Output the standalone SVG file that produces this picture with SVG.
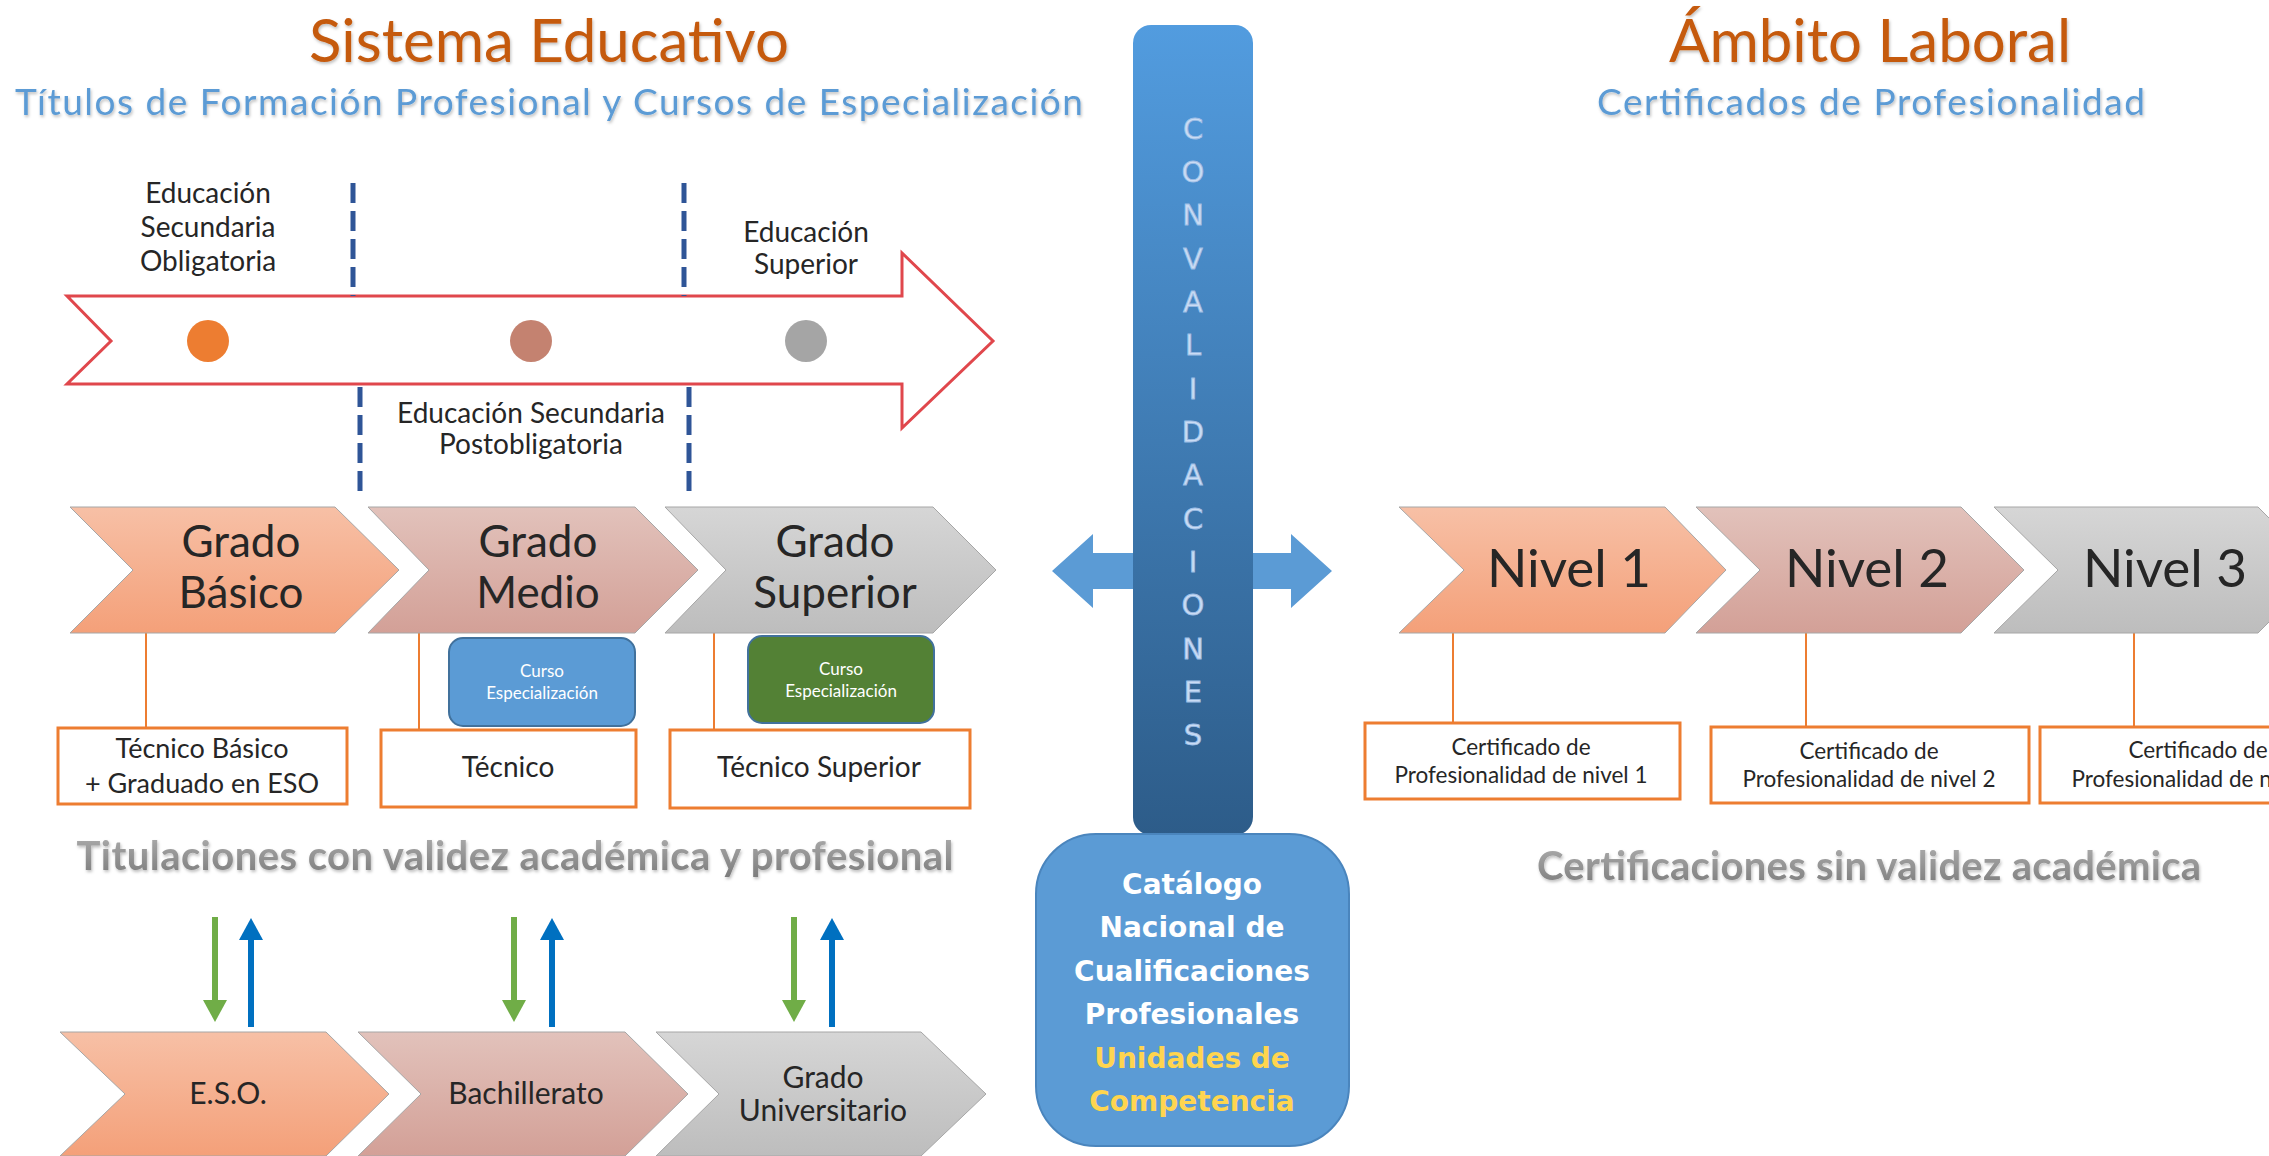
<svg xmlns="http://www.w3.org/2000/svg" width="2269" height="1156" viewBox="0 0 2269 1156">
<defs>
<style>
.t{font-family:Lato,"Liberation Sans",sans-serif;fill:#262626;text-anchor:middle}
.title{font-family:Lato,"Liberation Sans",sans-serif;font-size:60px;fill:#C55A11;text-anchor:middle}
.sub{font-family:Lato,"Liberation Sans",sans-serif;font-size:37px;fill:#5B9BD5;text-anchor:middle}
.grey{font-family:Lato,"Liberation Sans",sans-serif;font-size:40px;font-weight:bold;fill:url(#gGrey);text-anchor:middle}
.lbl{font-size:28px}
.big{font-size:44px}
.niv{font-size:53px}
.box{fill:#fff;stroke:#ED7D31;stroke-width:3}
.small{font-size:22.5px}
.mid{font-size:28px}
.conn{stroke:#ED7D31;stroke-width:2;fill:none}
.dash{stroke:#2F5597;stroke-width:5;stroke-dasharray:20 8;fill:none}
.chev{stroke:#A6A6A6;stroke-width:1}
.cv{font-family:"DejaVu Sans",Verdana,sans-serif;font-size:29px;fill:#CADCF4;stroke:#9EBEE6;stroke-width:0.8;text-anchor:middle}
.cat{font-family:"DejaVu Sans",Verdana,sans-serif;font-size:28px;font-weight:bold;fill:#fff;text-anchor:middle}
.curso{font-family:Lato,"Liberation Sans",sans-serif;font-size:17px;fill:#fff;text-anchor:middle}
.bot{font-size:30px}
</style>
<linearGradient id="gOr" x1="0" y1="0" x2="0" y2="1"><stop offset="0" stop-color="#F7C0A6"/><stop offset="1" stop-color="#F4A079"/></linearGradient>
<linearGradient id="gRo" x1="0" y1="0" x2="0" y2="1"><stop offset="0" stop-color="#E2C2BB"/><stop offset="1" stop-color="#D3A097"/></linearGradient>
<linearGradient id="gGr" x1="0" y1="0" x2="0" y2="1"><stop offset="0" stop-color="#D6D6D6"/><stop offset="1" stop-color="#BDBDBD"/></linearGradient>
<linearGradient id="gCv" x1="0" y1="0" x2="0" y2="1"><stop offset="0" stop-color="#529CDF"/><stop offset="1" stop-color="#2D5C89"/></linearGradient>
<linearGradient id="gGrey" x1="0" y1="0" x2="0" y2="1"><stop offset="0" stop-color="#B0B0B0"/><stop offset="1" stop-color="#7A7A7A"/></linearGradient>
<filter id="sh" x="-5%" y="-20%" width="110%" height="140%"><feDropShadow dx="1" dy="2" stdDeviation="1.5" flood-color="#000" flood-opacity="0.25"/></filter>
<marker id="hG" viewBox="0 0 22 24" markerWidth="22" markerHeight="24" refX="1" refY="12" orient="auto" markerUnits="userSpaceOnUse"><path d="M0,0 L22,12 L0,24 z" fill="#70AD47"/></marker>
<marker id="hB" viewBox="0 0 22 24" markerWidth="22" markerHeight="24" refX="1" refY="12" orient="auto" markerUnits="userSpaceOnUse"><path d="M0,0 L22,12 L0,24 z" fill="#0070C0"/></marker>
</defs>
<rect width="2269" height="1156" fill="#fff"/>

<g id="titulos">
<text class="title" x="549" y="62" filter="url(#sh)">Sistema Educativo</text>
<text class="sub" x="549" y="115" textLength="1068" lengthAdjust="spacing" filter="url(#sh)">Títulos de Formación Profesional y Cursos de Especialización</text>
<text class="title" x="1870" y="62" filter="url(#sh)">Ámbito Laboral</text>
<text class="sub" x="1871" y="115" textLength="548" lengthAdjust="spacing" filter="url(#sh)">Certificados de Profesionalidad</text>
</g>

<g id="linea-tiempo">
<polygon points="67,296 902,296 902,253 993,341 902,428 902,384 67,384 111,341" fill="#fff" stroke="#E0474C" stroke-width="3"/>
<circle cx="208" cy="341" r="21" fill="#ED7D31"/>
<circle cx="531" cy="341" r="21" fill="#C48270"/>
<circle cx="806" cy="341" r="21" fill="#A5A5A5"/>
</g>

<g id="etiquetas-etapas">
<text class="t lbl" x="208" y="203">Educación</text>
<text class="t lbl" x="208" y="237">Secundaria</text>
<text class="t lbl" x="208" y="271">Obligatoria</text>
<text class="t lbl" x="806" y="242">Educación</text>
<text class="t lbl" x="806" y="274">Superior</text>
<text class="t lbl" x="531" y="423">Educación Secundaria</text>
<text class="t lbl" x="531" y="454">Postobligatoria</text>
</g>

<g id="connectors">
<line class="dash" x1="353" y1="183" x2="353" y2="296"/>
<line class="dash" x1="684" y1="183" x2="684" y2="296"/>
<line class="dash" x1="360" y1="387" x2="360" y2="499"/>
<line class="dash" x1="689" y1="387" x2="689" y2="499"/>
<line class="conn" x1="146" y1="633" x2="146" y2="728"/>
<line class="conn" x1="419" y1="630" x2="419" y2="730"/>
<line class="conn" x1="714" y1="627" x2="714" y2="730"/>
<line class="conn" x1="1453" y1="633" x2="1453" y2="723"/>
<line class="conn" x1="1806" y1="630" x2="1806" y2="727"/>
<line class="conn" x1="2134" y1="633" x2="2134" y2="727"/>
<g stroke-width="6">
<line x1="215" y1="917" x2="215" y2="1001" stroke="#70AD47" marker-end="url(#hG)"/>
<line x1="251" y1="1027" x2="251" y2="939" stroke="#0070C0" marker-end="url(#hB)"/>
<line x1="514" y1="917" x2="514" y2="1001" stroke="#70AD47" marker-end="url(#hG)"/>
<line x1="552" y1="1027" x2="552" y2="939" stroke="#0070C0" marker-end="url(#hB)"/>
<line x1="794" y1="917" x2="794" y2="1001" stroke="#70AD47" marker-end="url(#hG)"/>
<line x1="832" y1="1027" x2="832" y2="939" stroke="#0070C0" marker-end="url(#hB)"/>
</g>
<polygon points="1052,571 1093,534 1093,553 1291,553 1291,534 1332,571 1291,608 1291,589 1093,589 1093,608" fill="#5B9BD5"/>
</g>

<g id="grado-basico">
<polygon class="chev" points="70,507 335,507 399,570 335,633 70,633 133,570" fill="url(#gOr)"/>
<text class="t big" x="241" y="557">Grado</text>
<text class="t big" x="241" y="608">Básico</text>
</g>
<g id="grado-medio">
<polygon class="chev" points="368,507 635,507 698,570 635,633 368,633 429,570" fill="url(#gRo)"/>
<text class="t big" x="538" y="557">Grado</text>
<text class="t big" x="538" y="608">Medio</text>
</g>
<g id="grado-superior">
<polygon class="chev" points="665,507 933,507 996,570 933,633 665,633 726,570" fill="url(#gGr)"/>
<text class="t big" x="835" y="557">Grado</text>
<text class="t big" x="835" y="608">Superior</text>
</g>

<g id="curso-esp-1">
<rect x="449" y="638" width="186" height="88" rx="14" fill="#5B9BD5" stroke="#41719C" stroke-width="2"/>
<text class="curso" x="542" y="677">Curso</text>
<text class="curso" x="542" y="699">Especialización</text>
</g>
<g id="curso-esp-2">
<rect x="748" y="636" width="186" height="87" rx="14" fill="#538135" stroke="#41719C" stroke-width="2"/>
<text class="curso" x="841" y="675">Curso</text>
<text class="curso" x="841" y="697">Especialización</text>
</g>

<g id="tecnico-basico">
<rect class="box" x="58" y="728" width="289" height="76"/>
<text class="t" font-size="27" x="202" y="758">Técnico Básico</text>
<text class="t" font-size="27" x="202" y="793">+ Graduado en ESO</text>
</g>
<g id="tecnico">
<rect class="box" x="381" y="730" width="255" height="77"/>
<text class="t mid" x="508" y="777">Técnico</text>
</g>
<g id="tecnico-superior">
<rect class="box" x="670" y="730" width="300" height="78"/>
<text class="t mid" x="819" y="777">Técnico Superior</text>
</g>

<g id="titulaciones">
<text class="grey" x="515" y="870" textLength="877" lengthAdjust="spacing" filter="url(#sh)">Titulaciones con validez académica y profesional</text>
</g>

<g id="eso">
<polygon class="chev" points="60,1032 326,1032 389,1094 326,1156 60,1156 125,1094" fill="url(#gOr)"/>
<text class="t bot" x="228" y="1104">E.S.O.</text>
</g>
<g id="bachillerato">
<polygon class="chev" points="358,1032 625,1032 688,1094 625,1156 358,1156 421,1094" fill="url(#gRo)"/>
<text class="t bot" x="526" y="1104">Bachillerato</text>
</g>
<g id="grado-universitario">
<polygon class="chev" points="656,1032 921,1032 986,1094 921,1156 656,1156 719,1094" fill="url(#gGr)"/>
<text class="t bot" x="823" y="1088">Grado</text>
<text class="t bot" x="823" y="1121">Universitario</text>
</g>

<g id="convalidaciones">
<rect x="1133" y="25" width="120" height="810" rx="18" fill="url(#gCv)"/>
<text class="cv" x="1193" y="139">C</text>
<text class="cv" x="1193" y="182">O</text>
<text class="cv" x="1193" y="225">N</text>
<text class="cv" x="1193" y="269">V</text>
<text class="cv" x="1193" y="312">A</text>
<text class="cv" x="1193" y="355">L</text>
<text class="cv" x="1193" y="399">I</text>
<text class="cv" x="1193" y="442">D</text>
<text class="cv" x="1193" y="485">A</text>
<text class="cv" x="1193" y="529">C</text>
<text class="cv" x="1193" y="572">I</text>
<text class="cv" x="1193" y="615">O</text>
<text class="cv" x="1193" y="659">N</text>
<text class="cv" x="1193" y="702">E</text>
<text class="cv" x="1193" y="745">S</text>
</g>

<g id="catalogo">
<rect x="1036" y="834" width="313" height="312" rx="60" fill="#5B9BD5" stroke="#4A85BD" stroke-width="2"/>
<text class="cat" x="1192" y="894">Catálogo</text>
<text class="cat" x="1192" y="937">Nacional de</text>
<text class="cat" x="1192" y="981">Cualificaciones</text>
<text class="cat" x="1192" y="1024">Profesionales</text>
<text class="cat" x="1192" y="1068" style="fill:#FFD54F">Unidades de</text>
<text class="cat" x="1192" y="1111" style="fill:#FFD54F">Competencia</text>
</g>

<g id="nivel-1">
<polygon class="chev" points="1399,507 1665,507 1726,570 1665,633 1399,633 1464,570" fill="url(#gOr)"/>
<text class="t niv" x="1569" y="587">Nivel 1</text>
</g>
<g id="nivel-2">
<polygon class="chev" points="1696,507 1961,507 2024,570 1961,633 1696,633 1760,570" fill="url(#gRo)"/>
<text class="t niv" x="1867" y="587">Nivel 2</text>
</g>
<g id="nivel-3">
<polygon class="chev" points="1994,507 2258,507 2321,570 2258,633 1994,633 2058,570" fill="url(#gGr)"/>
<text class="t niv" x="2165" y="587">Nivel 3</text>
</g>

<g id="cert-1">
<rect class="box" x="1365" y="723" width="315" height="76"/>
<text class="t small" x="1521" y="755">Certificado de</text>
<text class="t small" x="1521" y="783">Profesionalidad de nivel 1</text>
</g>
<g id="cert-2">
<rect class="box" x="1711" y="727" width="318" height="76"/>
<text class="t small" x="1869" y="759">Certificado de</text>
<text class="t small" x="1869" y="787">Profesionalidad de nivel 2</text>
</g>
<g id="cert-3">
<rect class="box" x="2040" y="727" width="316" height="76"/>
<text class="t small" x="2198" y="758">Certificado de</text>
<text class="t small" x="2198" y="787">Profesionalidad de nivel 3</text>
</g>

<g id="certificaciones">
<text class="grey" x="1869" y="880" textLength="664" lengthAdjust="spacing" filter="url(#sh)">Certificaciones sin validez académica</text>
</g>
</svg>
